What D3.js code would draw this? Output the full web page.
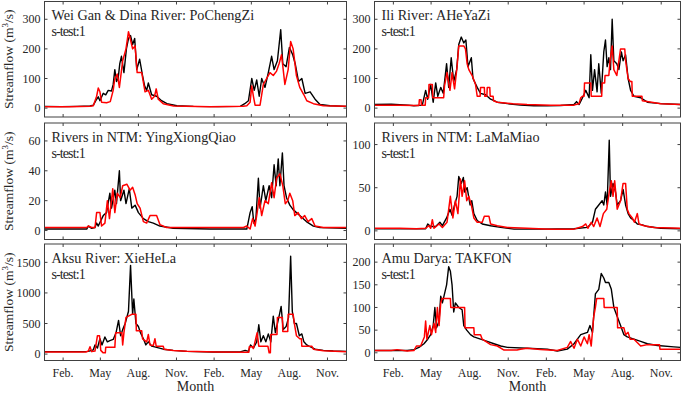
<!DOCTYPE html>
<html>
<head>
<meta charset="utf-8">
<script src="https://cdn.jsdelivr.net/npm/d3@7"></script>
<style>
body { margin: 0; background: #fff; }
text { font-family: "Liberation Serif", "Times New Roman", serif; fill: #262626; }
</style>
</head>
<body>
<script>

// month ticks (day of a two-year record, mid month)
var monthLabels = ["Feb.", "May", "Aug.", "Nov.", "Feb.", "May", "Aug.", "Nov."];
var monthDays = [45, 135, 227, 319, 410, 500, 592, 684];

var titles = ["Wei Gan & Dina River: PoChengZi", "Ili River: AHeYaZi",
              "Rivers in NTM: YingXiongQiao", "Rivers in NTM: LaMaMiao",
              "Aksu River: XieHeLa", "Amu Darya: TAKFON"];
var testLabel = "s-test:1";

var ticksPCZ = [0, 100, 200, 300];
var ticksAHY = [0, 100, 200, 300];
var ticksYXQ = [0, 20, 40, 60];
var ticksLMM = [0, 50, 100];
var ticksXHL = [0, 500, 1000, 1500];
var ticksTKF = [0, 50, 100, 150, 200];

// [day, m3/s] observed (black) and simulated (red)
var pczObs = [[0,6],[40,5],[80,6],[110,7],[118,10],[126,30],[130,38],[134,25],[142,50],[148,45],[154,60],[162,58],[166,80],[170,130],[174,90],[178,100],[182,150],[186,175],[192,120],[198,200],[203,235],[208,245],[213,215],[218,235],[223,130],[230,165],[237,110],[242,75],[247,60],[251,85],[259,45],[271,40],[283,25],[296,15],[320,8],[360,6],[420,5],[473,6],[484,15],[493,25],[501,100],[507,60],[513,95],[519,40],[525,100],[533,70],[541,120],[549,175],[555,130],[563,160],[571,265],[576,150],[584,140],[592,205],[600,180],[606,150],[614,90],[622,100],[630,50],[642,55],[654,30],[666,12],[690,8],[730,6]];
var pczSim = [[0,5],[60,5],[110,6],[118,8],[126,40],[130,68],[134,55],[138,20],[150,18],[159,22],[166,60],[170,100],[176,115],[181,70],[189,160],[197,200],[203,258],[208,230],[213,200],[219,210],[224,120],[235,120],[243,55],[251,60],[259,30],[266,40],[270,65],[275,30],[287,15],[312,7],[400,5],[480,6],[489,8],[497,20],[501,75],[505,40],[509,10],[521,10],[529,80],[537,100],[545,120],[553,110],[561,125],[567,150],[573,180],[581,80],[589,130],[595,225],[601,200],[609,110],[617,70],[627,45],[634,25],[650,15],[674,8],[730,6]];

var ahyObs = [[0,12],[40,13],[80,10],[94,8],[114,10],[122,60],[127,30],[134,80],[140,20],[146,85],[151,40],[158,70],[164,50],[172,150],[177,70],[183,170],[189,90],[196,130],[201,215],[207,240],[213,220],[218,230],[223,140],[231,170],[235,100],[245,70],[253,50],[265,45],[277,30],[293,20],[317,15],[348,10],[380,8],[412,8],[444,9],[476,12],[482,22],[488,12],[498,40],[504,60],[512,35],[516,180],[520,60],[525,130],[531,55],[535,150],[541,50],[547,190],[551,230],[555,140],[559,170],[563,130],[567,300],[571,160],[578,150],[583,130],[589,190],[593,160],[599,180],[605,100],[611,60],[619,40],[635,35],[651,20],[683,15],[730,12]];
var ahySim = [[0,10],[60,10],[100,9],[106,9],[107,28],[111,28],[112,10],[121,10],[122,35],[129,35],[130,80],[138,80],[139,35],[165,35],[167,75],[173,120],[180,60],[185,120],[191,65],[197,140],[201,210],[213,210],[217,200],[221,150],[225,130],[233,110],[241,80],[245,40],[252,40],[253,70],[262,70],[263,40],[268,40],[269,70],[275,70],[276,40],[283,40],[284,25],[293,20],[330,15],[364,12],[420,10],[476,10],[480,12],[488,15],[492,35],[496,40],[500,40],[501,85],[516,85],[517,40],[542,40],[543,85],[549,85],[550,110],[559,110],[562,160],[567,210],[571,130],[578,110],[583,160],[587,200],[597,200],[599,160],[605,100],[610,90],[614,90],[615,40],[638,40],[639,25],[683,15],[730,12]];

var yxqObs = [[0,1],[60,1],[102,1],[106,3],[114,1.5],[122,2],[126,5],[130,3],[142,10],[150,12],[158,25],[162,15],[170,27],[174,18],[181,40],[184,20],[192,27],[197,18],[205,28],[211,15],[219,17],[227,12],[239,8],[251,6],[263,5],[279,3],[311,1.5],[400,1],[489,1],[497,12],[502,16],[506,5],[511,8],[517,35],[521,15],[529,30],[535,20],[543,30],[549,22],[555,44],[560,30],[565,48],[569,30],[575,52],[579,30],[585,22],[593,17],[601,14],[609,12],[617,10],[633,6],[650,3],[666,2],[730,1.5]];
var yxqSim = [[0,2],[60,2],[102,2],[106,3],[114,2],[122,2],[126,12],[134,12],[138,3],[146,5],[152,20],[157,8],[165,28],[170,12],[176,25],[183,22],[189,30],[199,31],[207,27],[213,29],[219,24],[224,18],[231,15],[239,6],[247,5],[255,10],[259,10],[271,10],[279,4],[295,2],[400,2],[481,2],[489,3],[497,1],[503,8],[509,3],[514,12],[519,22],[525,10],[533,20],[541,18],[549,32],[555,22],[561,35],[569,38],[576,30],[582,18],[588,20],[593,25],[600,20],[605,10],[613,12],[621,8],[629,10],[637,6],[646,8],[654,3],[674,2],[730,2]];

var lmmObs = [[0,2.5],[60,2.5],[122,2.5],[127,8],[134,5],[146,5],[156,10],[162,6],[172,15],[180,25],[185,18],[191,30],[197,40],[201,63],[207,55],[212,62],[215,45],[221,50],[228,30],[232,35],[237,20],[245,12],[257,8],[277,6],[301,4],[333,2],[396,2],[476,2.5],[508,4],[520,10],[527,25],[535,30],[543,35],[547,30],[551,45],[555,30],[560,105],[563,40],[569,55],[575,45],[579,30],[587,35],[593,48],[599,30],[605,20],[611,15],[619,12],[627,8],[639,7],[651,5],[683,3],[730,2.5]];
var lmmSim = [[0,3],[60,3],[100,2.5],[122,3],[130,6],[134,3],[138,13],[142,3],[154,8],[162,4],[173,10],[181,40],[187,15],[193,35],[199,20],[205,60],[209,40],[215,58],[220,35],[225,40],[231,30],[237,15],[245,10],[257,10],[262,17],[273,17],[277,8],[293,6],[317,4],[364,3],[420,2],[476,2],[496,5],[504,8],[509,3],[517,10],[523,5],[531,15],[538,5],[546,20],[554,25],[560,45],[565,58],[569,40],[573,58],[579,25],[587,35],[593,55],[599,55],[603,25],[607,20],[615,15],[620,10],[627,20],[631,8],[643,6],[667,4],[730,3]];

var xhlObs = [[0,40],[60,40],[94,40],[106,45],[118,70],[122,150],[128,100],[134,250],[139,150],[146,280],[152,200],[158,220],[166,240],[173,350],[179,550],[184,300],[189,400],[195,500],[203,700],[208,1450],[213,650],[216,900],[221,500],[227,450],[232,350],[239,250],[245,150],[251,200],[259,130],[271,110],[287,80],[311,60],[344,45],[408,35],[473,35],[485,60],[493,45],[498,150],[505,100],[513,200],[518,480],[523,200],[529,300],[535,200],[541,330],[547,200],[553,620],[558,350],[563,500],[568,650],[572,780],[577,400],[584,450],[590,600],[595,1600],[599,700],[604,500],[609,500],[616,300],[622,330],[627,200],[634,150],[642,120],[654,80],[674,60],[698,50],[730,45]];
var xhlSim = [[0,35],[60,35],[100,35],[106,50],[110,120],[114,40],[122,50],[128,300],[133,300],[136,60],[142,20],[147,20],[148,110],[170,110],[172,350],[187,350],[189,150],[192,350],[197,600],[211,650],[221,650],[222,380],[235,380],[237,250],[247,200],[251,320],[255,150],[263,140],[267,250],[270,130],[287,130],[289,80],[311,60],[344,45],[416,35],[489,30],[494,30],[495,120],[503,120],[505,90],[514,350],[518,130],[540,130],[543,20],[546,20],[547,320],[562,320],[563,600],[575,600],[576,370],[588,370],[589,650],[601,650],[604,500],[609,300],[617,250],[621,250],[622,130],[646,130],[650,80],[674,55],[730,40]];

var tkfObs = [[0,5],[40,5],[78,5],[94,7],[106,12],[118,20],[127,30],[134,40],[140,60],[144,100],[148,55],[154,70],[158,125],[162,110],[167,130],[172,150],[177,190],[181,180],[185,150],[189,90],[193,110],[201,100],[209,95],[213,60],[220,50],[229,40],[237,35],[253,30],[269,25],[285,20],[301,15],[317,12],[364,10],[412,8],[436,4],[460,8],[476,20],[484,30],[492,40],[508,45],[514,60],[520,45],[527,130],[535,140],[541,175],[547,165],[551,155],[559,155],[565,140],[571,100],[579,80],[587,60],[595,40],[603,35],[619,30],[635,25],[651,20],[675,16],[714,13],[730,12]];
var tkfSim = [[0,5],[40,5],[54,7],[78,4],[94,5],[100,15],[110,15],[119,35],[122,70],[125,30],[132,60],[136,40],[142,65],[146,45],[150,100],[154,60],[158,110],[161,120],[181,120],[182,100],[215,100],[216,55],[237,55],[238,40],[253,40],[257,30],[277,18],[293,15],[309,6],[340,6],[348,8],[364,10],[396,7],[436,5],[460,12],[468,25],[476,10],[484,30],[492,15],[500,35],[508,20],[512,40],[517,15],[523,80],[527,100],[530,120],[547,120],[548,100],[579,100],[580,55],[595,55],[599,40],[605,45],[610,30],[619,30],[635,15],[651,18],[680,18],[681,8],[730,8]];

var w = 685;
var h = 394;

var svg = d3.select("body").append("svg")
    .attr("width", w)
    .attr("height", h);

var cols = [[44.5, 346.5], [374.5, 680.5]];
var rows = [[1.5, 117], [123, 239.5], [244, 360.5]];

var panels = [
    {obs: pczObs, sim: pczSim, ticks: ticksPCZ, dom: [-30, 360]},
    {obs: ahyObs, sim: ahySim, ticks: ticksAHY, dom: [-30, 360]},
    {obs: yxqObs, sim: yxqSim, ticks: ticksYXQ, dom: [-6, 72]},
    {obs: lmmObs, sim: lmmSim, ticks: ticksLMM, dom: [-10, 125]},
    {obs: xhlObs, sim: xhlSim, ticks: ticksXHL, dom: [-105, 1800]},
    {obs: tkfObs, sim: tkfSim, ticks: ticksTKF, dom: [-17, 240]}
];

var axisCol = "#404040";

panels.forEach(function(p, i) {
    var c = cols[i % 2], r = rows[Math.floor(i / 2)];
    var x = d3.scaleLinear().domain([0, 730]).range(c);
    var y = d3.scaleLinear().domain(p.dom).range([r[1], r[0]]);

    var g = svg.append("g");

    g.append("clipPath").attr("id", "clip" + i)
        .append("rect")
        .attr("x", c[0]).attr("y", r[0])
        .attr("width", c[1] - c[0]).attr("height", r[1] - r[0]);

    var line = d3.line()
        .x(function(d) { return x(d[0]); })
        .y(function(d) { return y(d[1]); });

    var lines = g.append("g").attr("clip-path", "url(#clip" + i + ")");
    lines.append("path").attr("d", line(p.obs))
        .attr("fill", "none").attr("stroke", "#000").attr("stroke-width", 1.4)
        .attr("stroke-linejoin", "round");
    lines.append("path").attr("d", line(p.sim))
        .attr("fill", "none").attr("stroke", "#ff0000").attr("stroke-width", 1.5)
        .attr("stroke-linejoin", "round");

    // box with ticks on every side (inward)
    g.append("rect")
        .attr("x", c[0]).attr("y", r[0])
        .attr("width", c[1] - c[0]).attr("height", r[1] - r[0])
        .attr("fill", "none").attr("stroke", axisCol).attr("stroke-width", 1);

    monthDays.forEach(function(d) {
        g.append("line").attr("x1", x(d)).attr("x2", x(d))
            .attr("y1", r[1]).attr("y2", r[1] - 3).attr("stroke", axisCol);
        g.append("line").attr("x1", x(d)).attr("x2", x(d))
            .attr("y1", r[0]).attr("y2", r[0] + 3).attr("stroke", axisCol);
    });

    p.ticks.forEach(function(t) {
        g.append("line").attr("x1", c[0]).attr("x2", c[0] + 3)
            .attr("y1", y(t)).attr("y2", y(t)).attr("stroke", axisCol);
        g.append("line").attr("x1", c[1]).attr("x2", c[1] - 3)
            .attr("y1", y(t)).attr("y2", y(t)).attr("stroke", axisCol);
        g.append("text").attr("x", c[0] - 4).attr("y", y(t)).attr("dy", "0.35em")
            .attr("text-anchor", "end").attr("font-size", 12).text(t);
    });

    g.append("text").attr("x", c[0] + 7).attr("y", r[0] + 18.5)
        .attr("font-size", 14.2).text(titles[i]);
    g.append("text").attr("x", c[0] + 7).attr("y", r[0] + 34.5)
        .attr("font-size", 14).attr("letter-spacing", -0.9).text(testLabel);

    if (i % 2 == 0) {
        var yl = g.append("text")
            .attr("transform", "translate(13," + ((r[0] + r[1]) / 2) + ") rotate(-90)")
            .attr("text-anchor", "middle").attr("font-size", 13.5);
        yl.append("tspan").text("Streamflow (m");
        yl.append("tspan").attr("dy", -5).attr("font-size", 9).text("3");
        yl.append("tspan").attr("dy", 5).text("/s)");
    }

    if (Math.floor(i / 2) == 2) {
        monthDays.forEach(function(d, k) {
            g.append("text").attr("x", x(d)).attr("y", r[1] + 16)
                .attr("text-anchor", "middle").attr("font-size", 12).text(monthLabels[k]);
        });
        g.append("text").attr("x", (c[0] + c[1]) / 2).attr("y", r[1] + 30)
            .attr("text-anchor", "middle").attr("font-size", 14).text("Month");
    }
});

</script>
</body>
</html>
